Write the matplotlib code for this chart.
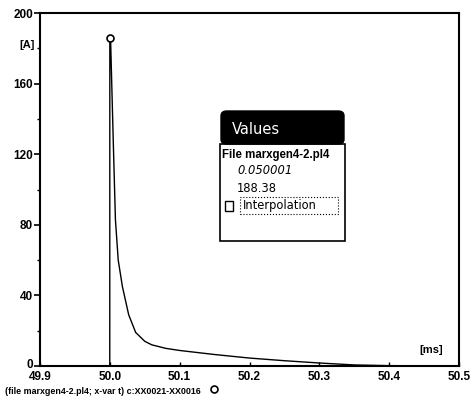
import matplotlib
matplotlib.use("Agg")
import matplotlib.pyplot as plt
from matplotlib.patches import Rectangle, FancyBboxPatch
from matplotlib.ticker import MultipleLocator
from matplotlib.transforms import ScaledTranslation

# current waveform
t_ms = [49.9, 49.9999, 50.0, 50.001, 50.005, 50.008, 50.012, 50.018, 50.027, 50.037,
        50.05, 50.06, 50.08, 50.1, 50.15, 50.2, 50.25, 50.3, 50.35, 50.4, 50.5]
i_amp = [0, 0, 186, 186, 126, 83, 60, 45, 29, 19,
         14, 12, 10, 8.8, 6.5, 4.5, 3.0, 1.7, 0.6, 0.2, 0.0]
peak_t = 50.0
peak_i = 186

x_ticks = [49.9, 50.0, 50.1, 50.2, 50.3, 50.4, 50.5]
y_ticks = [0, 40, 80, 120, 160, 200]

W, H = 471, 400
fig = plt.figure(figsize=(W / 100, H / 100), dpi=100)
ax = fig.add_axes([40 / W, 1 - 366 / H, (459 - 40) / W, (366 - 13) / H])

ax.plot(t_ms, i_amp, color="black", lw=1.0)
ax.plot([peak_t], [peak_i], marker="o", ms=5, mfc="white", mec="black", mew=1.2)

ax.set_xlim(49.9, 50.5)
ax.set_ylim(0, 200)
ax.set_xticks(x_ticks)
ax.set_xticklabels([f"{v:.1f}" for v in x_ticks])
ax.set_yticks(y_ticks)
ax.yaxis.set_minor_locator(MultipleLocator(20))
for s in ax.spines.values():
    s.set_linewidth(1.5)
ax.tick_params(axis="y", which="major", direction="out", length=4, width=1.2, pad=1)
ax.tick_params(axis="y", which="minor", direction="out", length=2, width=1)
ax.tick_params(axis="x", direction="in", length=3, width=1, pad=3.5)
for lab in ax.get_xticklabels() + ax.get_yticklabels():
    lab.set_fontsize(8.5)
    lab.set_fontweight("bold")
    lab.set_family("Liberation Sans")

# nudge the "0" label up a little so it clears "49.9"
zero_lab = ax.get_yticklabels()[0]
zero_lab.set_transform(zero_lab.get_transform()
                       + ScaledTranslation(0, 2 / 72, fig.dpi_scale_trans))

ax.text(-0.012, 182, "[A]", transform=ax.get_yaxis_transform(), ha="right", va="center",
        fontsize=8, fontweight="bold", family="Liberation Sans")
ax.text(50.46, 9, "[ms]", ha="center", va="center", fontsize=8,
        fontweight="bold", family="Liberation Sans")

# footer
fig.text(5 / W, 1 - 391 / H, "(file marxgen4-2.pl4; x-var t) c:XX0021-XX0016",
         fontsize=6.4, fontweight="bold", family="Liberation Sans", va="center")
fig.add_artist(plt.Line2D([214 / W], [1 - 389 / H], marker="o", ms=5,
                          mfc="white", mec="black", mew=1.2))

# "Values" popup
def fx(px):
    return px / W

def fy(py):
    return 1 - py / H

body = Rectangle((fx(220), fy(241)), fx(345) - fx(220), fy(144) - fy(241),
                 transform=fig.transFigure, facecolor="white", edgecolor="black", lw=1.2)
title = FancyBboxPatch((fx(221), fy(144)), fx(344) - fx(221), fy(111) - fy(144),
                       boxstyle="round,pad=0,rounding_size=0.012",
                       transform=fig.transFigure, facecolor="black", edgecolor="black")
fig.add_artist(body)
fig.add_artist(title)
fig.text(fx(232), fy(129), "Values", color="white", fontsize=10.5, va="center",
         family="DejaVu Sans")
fig.text(fx(222), fy(155), "File marxgen4-2.pl4", fontsize=8.3, fontweight="bold",
         va="center", family="Liberation Sans")
fig.text(fx(237), fy(171), "0.050001", fontsize=8.3, style="italic", va="center",
         family="DejaVu Sans")
fig.text(fx(237), fy(188), "188.38", fontsize=8.3, va="center", family="DejaVu Sans")
fig.add_artist(Rectangle((fx(225), fy(211)), fx(233) - fx(225), fy(201) - fy(211),
                         transform=fig.transFigure, facecolor="white",
                         edgecolor="black", lw=1.0))
fig.add_artist(Rectangle((fx(240), fy(214)), fx(338) - fx(240), fy(197) - fy(214),
                         transform=fig.transFigure, facecolor="none",
                         edgecolor="black", lw=0.8, ls=":"))
fig.text(fx(243), fy(206), "Interpolation", fontsize=8.3, va="center",
         family="DejaVu Sans")

fig.savefig("out.png", dpi=100)
